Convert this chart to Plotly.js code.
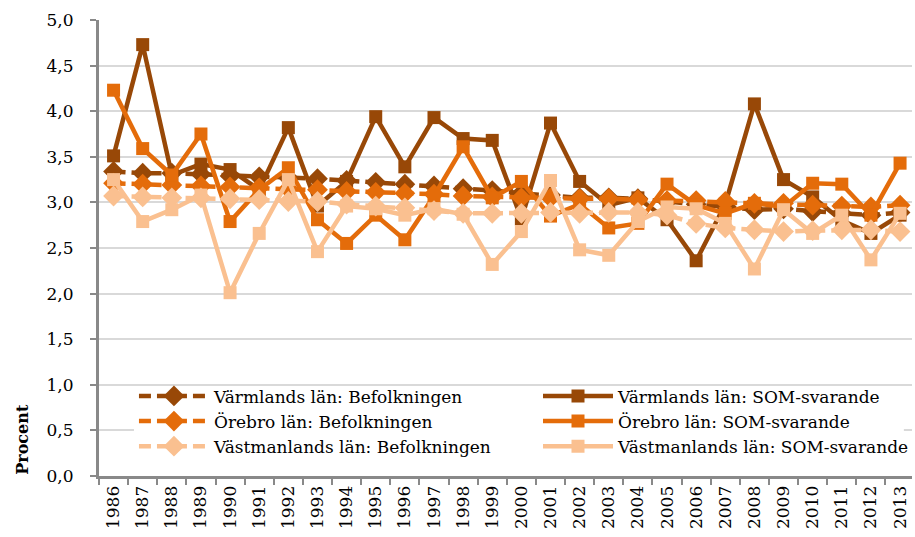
<!DOCTYPE html>
<html>
<head>
<meta charset="utf-8">
<script src="https://cdn.plot.ly/plotly-3.0.1.min.js"></script>
<style>html,body{margin:0;padding:0;background:#fff;}#chart{width:915px;height:537px;}</style>
</head>
<body>
<div id="chart"></div>
<script>
const years = ['1986','1987','1988','1989','1990','1991','1992','1993','1994','1995','1996','1997','1998','1999','2000','2001','2002','2003','2004','2005','2006','2007','2008','2009','2010','2011','2012','2013'];

const varmlandBef = [3.34,3.32,3.32,3.31,3.29,3.28,3.27,3.26,3.24,3.22,3.20,3.18,3.15,3.13,3.10,3.08,3.05,3.05,3.04,3.01,2.98,2.96,2.92,2.93,2.90,2.88,2.86,2.89];
const varmlandSOM = [3.51,4.73,3.30,3.42,3.36,3.14,3.82,2.96,3.23,3.94,3.39,3.93,3.70,3.68,2.82,3.87,3.23,2.97,3.05,2.81,2.36,2.98,4.08,3.25,3.06,2.80,2.66,2.86];
const orebroBef = [3.21,3.20,3.19,3.18,3.17,3.16,3.15,3.14,3.12,3.11,3.10,3.09,3.07,3.06,3.05,3.05,3.04,3.04,3.03,3.02,3.02,3.01,2.99,2.99,2.97,2.96,2.95,2.97];
const orebroSOM = [4.23,3.59,3.30,3.75,2.79,3.14,3.38,2.81,2.55,2.86,2.59,3.07,3.61,3.05,3.23,2.85,2.98,2.72,2.77,3.20,2.97,2.88,2.99,2.95,3.21,3.20,2.86,3.43];
const vastmanlandBef = [3.07,3.06,3.05,3.05,3.04,3.03,3.01,3.01,2.98,2.96,2.94,2.91,2.88,2.88,2.88,2.89,2.88,2.89,2.89,2.86,2.77,2.72,2.70,2.68,2.69,2.70,2.70,2.68];
const vastmanlandSOM = [3.25,2.79,2.92,3.08,2.01,2.66,3.25,2.46,2.96,2.93,2.86,2.93,2.87,2.32,2.68,3.24,2.48,2.42,2.79,2.95,2.93,2.77,2.27,2.92,2.66,2.86,2.37,2.88];

const seriesNames = ['Värmlands län: Befolkningen','Värmlands län: SOM-svarande','Örebro län: Befolkningen','Örebro län: SOM-svarande','Västmanlands län: Befolkningen','Västmanlands län: SOM-svarande'];

const cDark = '#984807', cMid = '#E46C0A', cLight = '#FAC090';

function bef(name, y, color){
  return {type:'scatter', mode:'lines+markers', name:name, x:years, y:y, legend:'legend',
    line:{color:color, width:4.5, dash:'12px,6px'},
    marker:{symbol:'diamond', size:16, color:color}};
}
function som(name, y, color){
  return {type:'scatter', mode:'lines+markers', name:name, x:years, y:y, legend:'legend2',
    line:{color:color, width:4.5},
    marker:{symbol:'square', size:13, color:color}};
}

const data = [
  bef(seriesNames[0], varmlandBef, cDark),
  som(seriesNames[1], varmlandSOM, cDark),
  bef(seriesNames[2], orebroBef, cMid),
  som(seriesNames[3], orebroSOM, cMid),
  bef(seriesNames[4], vastmanlandBef, cLight),
  som(seriesNames[5], vastmanlandSOM, cLight)
];

const font = 'DejaVu Serif, Liberation Serif, serif';
const legendBase = {orientation:'v', y:0.214, xanchor:'left', yanchor:'top',
  bgcolor:'rgba(0,0,0,0)', itemwidth:70, tracegroupgap:0, traceorder:'normal',
  font:{family:font, size:17, color:'#000'}};

const layout = {
  width:915, height:537,
  margin:{l:99, r:0, t:20, b:61},
  paper_bgcolor:'#fff', plot_bgcolor:'#fff',
  separators:', ',
  font:{family:font, size:17, color:'#000'},
  showlegend:true,
  legend:Object.assign({}, legendBase, {x:0.043}),
  legend2:Object.assign({}, legendBase, {x:0.54}),
  xaxis:{type:'category', range:[-0.5, 27.41], tickangle:-90, ticks:'outside', tickson:'boundaries',
    ticklen:6, tickwidth:2, tickcolor:'#898989', showline:true, linecolor:'#898989', linewidth:3,
    showgrid:false, tickfont:{family:font, size:17}, fixedrange:true},
  yaxis:{range:[0,5], dtick:0.5, tickformat:'.1f', ticks:'outside', ticklen:6, tickwidth:2,
    tickcolor:'#898989', showline:true, linecolor:'#898989', linewidth:3,
    gridcolor:'#D9D9D9', gridwidth:2, zeroline:false, tickfont:{family:font, size:17},
    ticklabelstandoff:13, fixedrange:true},
  shapes:[{type:'rect', xref:'paper', yref:'paper', x0:0.043, x1:0.99, y0:0.035, y1:0.192,
    fillcolor:'#fff', line:{width:0}, layer:'above'}],
  annotations:[{text:'<b>Procent</b>', xref:'paper', yref:'paper', x:-0.094, y:0.08,
    xanchor:'center', yanchor:'middle',
    textangle:-90, showarrow:false, font:{family:font, size:16, color:'#000'}}]
};
layout.annotations[0].x = (22 - 99) / 816;

Plotly.newPlot('chart', data, layout, {displayModeBar:false, staticPlot:true});
</script>
</body>
</html>
